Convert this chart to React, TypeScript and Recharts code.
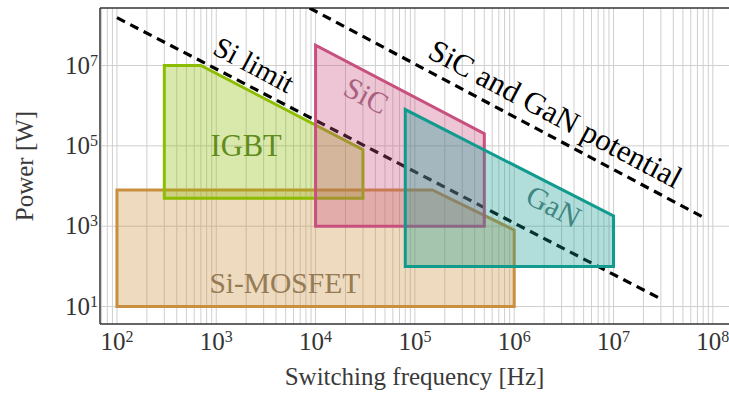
import React from "react"
import { ComposedChart, Scatter, XAxis, YAxis, ReferenceLine, ReferenceDot } from "recharts"

const FONT = "'Liberation Serif', 'Times New Roman', serif"

// axis ranges (log10 scale)
const xDomain = [67.5, 1.455e8]
const yDomain = [3.68, 2.7e8]
const xTicks = [1e2, 1e3, 1e4, 1e5, 1e6, 1e7, 1e8]
const yTicks = [1e1, 1e3, 1e5, 1e7]
const decades = [1e1, 1e2, 1e3, 1e4, 1e5, 1e6, 1e7, 1e8]
const minorSteps = [2, 3, 4, 5, 6, 7, 8, 9]

// device regions, frequency [Hz] vs power [W]
const siMosfet = [
  { f: 1e2, p: 10 },
  { f: 1e2, p: 8e3 },
  { f: 1.5e5, p: 8e3 },
  { f: 1e6, p: 8e2 },
  { f: 1e6, p: 10 },
  { f: 1e2, p: 10 },
]
const igbt = [
  { f: 300, p: 5e3 },
  { f: 300, p: 1e7 },
  { f: 700, p: 1e7 },
  { f: 3e4, p: 8e4 },
  { f: 3e4, p: 5e3 },
  { f: 300, p: 5e3 },
]
const sic = [
  { f: 1e4, p: 1e3 },
  { f: 1e4, p: 3.2e7 },
  { f: 5e5, p: 2e5 },
  { f: 5e5, p: 1e3 },
  { f: 1e4, p: 1e3 },
]
const gan = [
  { f: 8e4, p: 100 },
  { f: 8e4, p: 8e5 },
  { f: 1e7, p: 1.8e3 },
  { f: 1e7, p: 100 },
  { f: 8e4, p: 100 },
]
const siLimit = [
  { f: 1e2, p: 1.55e8 },
  { f: 3e7, p: 15.5 },
]
const sicGanLimit = [
  { f: 8.7e3, p: 2.7e8 },
  { f: 8.7e7, p: 1.5e3 },
]

const regions = [
  { name: "Si-MOSFET", data: siMosfet, color: "#c98f3e" },
  { name: "IGBT", data: igbt, color: "#8cbd00" },
  { name: "SiC", data: sic, color: "#c8507f" },
  { name: "GaN", data: gan, color: "#119a8e" },
]

const labels = [
  { text: "Si limit", f: 2.4e3, p: 1.05e7, angle: 28, color: "#000", size: 29 },
  { text: "SiC and GaN potential", f: 2.6e6, p: 6.3e5, angle: 28, color: "#000", size: 31 },
  { text: "SiC", f: 3.25e4, p: 1.8e6, angle: 28, color: "#a8627f", size: 30 },
  { text: "GaN", f: 2.5e6, p: 3.2e3, angle: 28, color: "#3f8682", size: 30 },
  { text: "IGBT", f: 2e3, p: 1e5, angle: 0, color: "#5f8c1a", size: 30.5 },
  { text: "Si-MOSFET", f: 4.9e3, p: 39, angle: 0, color: "#967b55", size: 29.5 },
]

const minorX = decades
  .flatMap((d) => minorSteps.map((m) => m * d))
  .filter((v) => v >= xDomain[0] && v <= xDomain[1])
const gridX = [...minorX, ...xTicks].sort((a, b) => a - b)

const exponent = (v: number) => Math.round(Math.log10(v))

const XTick = ({ x, y, payload }: any) => (
  <text x={x} y={y + 25.5} textAnchor="middle" fontFamily={FONT} fontSize={25} fill="#333">
    10
    <tspan dy={-8} fontSize={16}>
      {exponent(payload.value)}
    </tspan>
  </text>
)

const YTick = ({ x, y, payload }: any) => (
  <text x={x - 2} y={y + 8} textAnchor="end" fontFamily={FONT} fontSize={25} fill="#333">
    10
    <tspan dy={-8} fontSize={16}>
      {exponent(payload.value)}
    </tspan>
  </text>
)

const Nothing = () => <g />

const tickOnly = {
  type: "number" as const,
  scale: "log" as const,
  allowDataOverflow: true,
  interval: 0 as const,
  tick: false,
  mirror: true,
}

export default function App() {
  return (
    <div style={{ position: "absolute", left: 0, top: 0 }}>
      <ComposedChart width={729} height={394} margin={{ top: 8, right: 0, bottom: 0, left: 0 }}>
        {/* tick-mark-only axes first so they sit on the plot edges */}
        <XAxis {...tickOnly} xAxisId="minB" orientation="bottom" height={1} domain={xDomain} ticks={minorX}
          tickSize={4} axisLine={false} tickLine={{ stroke: "#666" }} />
        <XAxis {...tickOnly} xAxisId="majB" orientation="bottom" height={1} domain={xDomain} ticks={xTicks}
          tickSize={6} axisLine={false} tickLine={{ stroke: "#444" }} />
        <XAxis {...tickOnly} xAxisId="minT" orientation="top" height={1} domain={xDomain} ticks={minorX}
          tickSize={4} axisLine={false} tickLine={{ stroke: "#666" }} />
        <XAxis {...tickOnly} xAxisId="majT" orientation="top" height={1} domain={xDomain} ticks={xTicks}
          tickSize={6} axisLine={{ stroke: "#333", strokeWidth: 1.5 }} tickLine={{ stroke: "#444" }} />
        <YAxis {...tickOnly} yAxisId="majL" orientation="left" width={1} domain={yDomain} ticks={yTicks}
          tickSize={6} axisLine={false} tickLine={{ stroke: "#444" }} />
        <YAxis {...tickOnly} yAxisId="majR" orientation="right" width={1} domain={yDomain} ticks={yTicks}
          tickSize={6} axisLine={false} tickLine={{ stroke: "#444" }} />

        <XAxis
          dataKey="f"
          type="number"
          scale="log"
          domain={xDomain}
          allowDataOverflow
          ticks={xTicks}
          interval={0}
          height={70}
          tickSize={0}
          tickMargin={0}
          tickLine={false}
          axisLine={{ stroke: "#333", strokeWidth: 1.5 }}
          tick={<XTick />}
          label={{
            content: ({ viewBox }: any) => (
              <text x={viewBox.x + viewBox.width / 2} y={viewBox.y + 61} textAnchor="middle"
                fontFamily={FONT} fontSize={25} fill="#3a3a3a">
                Switching frequency [Hz]
              </text>
            ),
          }}
        />
        <YAxis
          dataKey="p"
          type="number"
          scale="log"
          domain={yDomain}
          allowDataOverflow
          ticks={yTicks}
          interval={0}
          width={100}
          tickSize={0}
          tickMargin={0}
          tickLine={false}
          axisLine={{ stroke: "#333", strokeWidth: 1.5 }}
          tick={<YTick />}
          label={{
            content: ({ viewBox }: any) => {
              const cx = viewBox.x + 33
              const cy = viewBox.y + viewBox.height / 2
              return (
                <text x={cx} y={cy} textAnchor="middle" transform={`rotate(-90 ${cx} ${cy})`}
                  fontFamily={FONT} fontSize={25} fill="#3a3a3a">
                  Power [W]
                </text>
              )
            },
          }}
        />

        {gridX.map((v) => (
          <ReferenceLine key={`gx-${v}`} x={v} stroke="#cfcfcf" strokeWidth={1} />
        ))}
        {yTicks.map((v) => (
          <ReferenceLine key={`gy-${v}`} y={v} stroke="#cfcfcf" strokeWidth={1} />
        ))}

        <Scatter data={siLimit} isAnimationActive={false} shape={Nothing} lineType="joint"
          line={{ stroke: "#000", strokeWidth: 3.2, strokeDasharray: "9 6", fill: "none" }} />
        <Scatter data={sicGanLimit} isAnimationActive={false} shape={Nothing} lineType="joint"
          line={{ stroke: "#000", strokeWidth: 3.2, strokeDasharray: "9 6", fill: "none" }} />

        {regions.map((r) => (
          <Scatter key={r.name} name={r.name} data={r.data} isAnimationActive={false} shape={Nothing}
            lineType="joint"
            line={{
              stroke: r.color,
              strokeWidth: 3,
              fill: r.color,
              fillOpacity: 0.33,
              strokeLinejoin: "miter",
              strokeLinecap: "square",
            }}
          />
        ))}

        {labels.map((l) => (
          <ReferenceDot key={l.text} x={l.f} y={l.p} r={0}
            shape={(props: any) => (
              <text x={props.cx} y={props.cy} textAnchor="middle" dominantBaseline="central"
                transform={`rotate(${l.angle} ${props.cx} ${props.cy})`}
                fontFamily={FONT} fontSize={l.size} fill={l.color}>
                {l.text}
              </text>
            )}
          />
        ))}
      </ComposedChart>
    </div>
  )
}
